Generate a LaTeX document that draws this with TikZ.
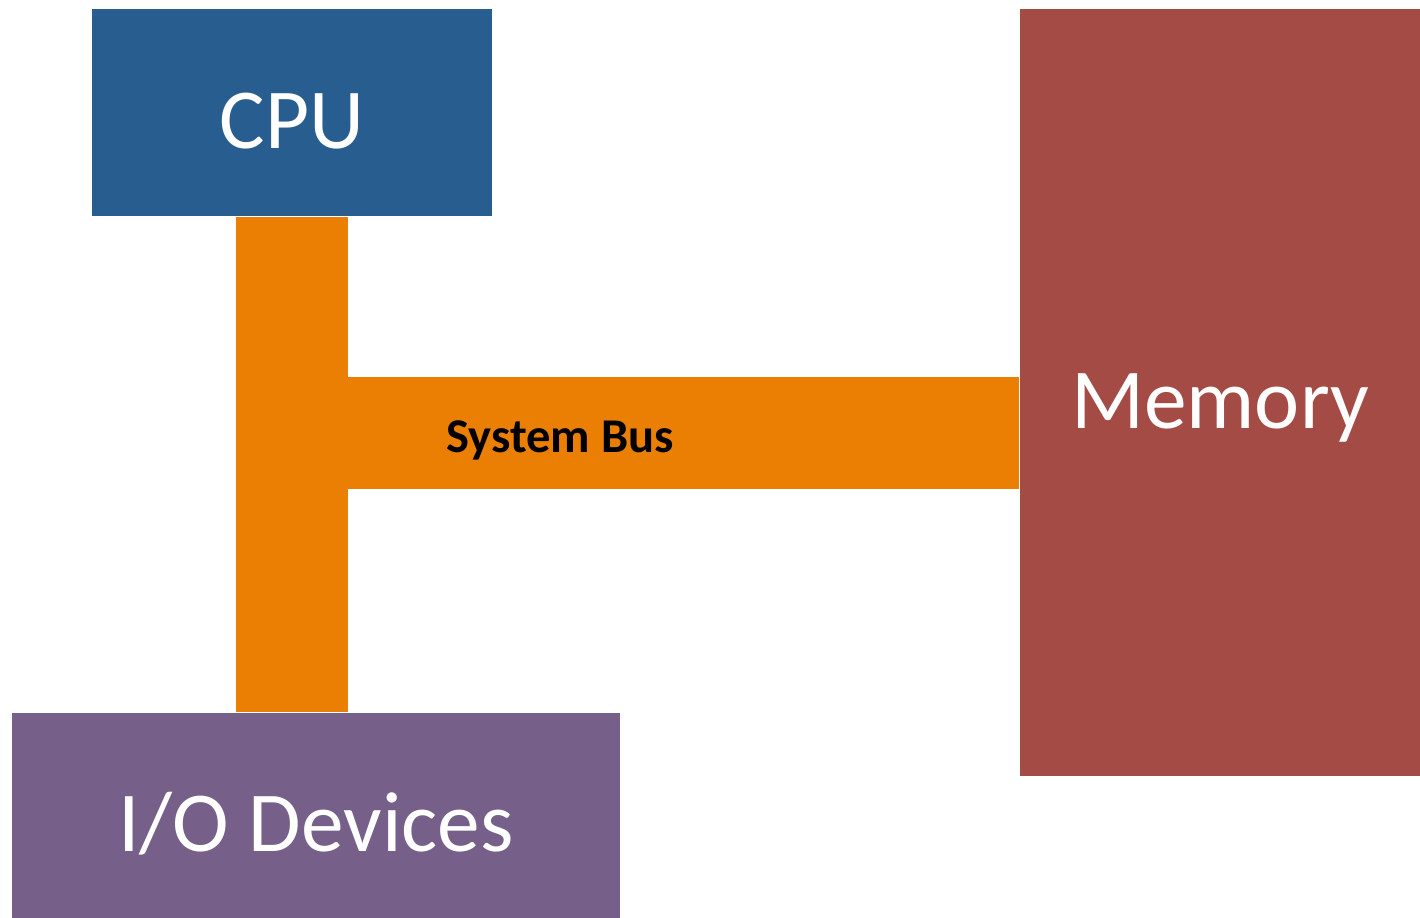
\documentclass[tikz,border=0pt]{standalone}
\usepackage{fontspec}
\setmainfont{Carlito}
\definecolor{cpublue}{RGB}{39,94,143}
\definecolor{busorange}{RGB}{234,127,4}
\definecolor{memred}{RGB}{165,75,69}
\definecolor{iopurple}{RGB}{118,96,138}
\tikzset{
  unitbox/.style={inner sep=0pt, text=white, font=\fontsize{24.3}{29}\selectfont,
    text height=20.5pt, text depth=0pt},
  busline/.style={busorange, line width=1.12cm},
  buslabel/.style={font=\fontsize{13.8}{16}\selectfont\bfseries, inner sep=0pt}
}
\begin{document}
\begin{tikzpicture}
      \useasboundingbox (0,0) rectangle (14.2,-9.18);
      % UNITS
      % cpu
      \node[unitbox, fill=cpublue, minimum width=4cm, minimum height=2.07cm]
        (cpu) at (2.92,-1.125) {CPU};
      % memory
      \node[unitbox, fill=memred, minimum width=4cm, minimum height=7.67cm]
        (mem) at (12.20,-3.925) {Memory};
      % i/o
      \node[unitbox, fill=iopurple, minimum width=6.08cm, minimum height=2.05cm]
        (io) at (3.16,-8.155) {I/O Devices};

      % BUS
      \coordinate (join) at (2.92,-4.33); % where the branch to memory starts
      \draw[busline] (cpu.south) -- (cpu.south |- io.north);
      \draw[busline] (join) -- (join -| mem.west);
      \node[buslabel, anchor=base] (buslbl) at (5.60,-4.52) {System Bus};
\end{tikzpicture}
\end{document}
